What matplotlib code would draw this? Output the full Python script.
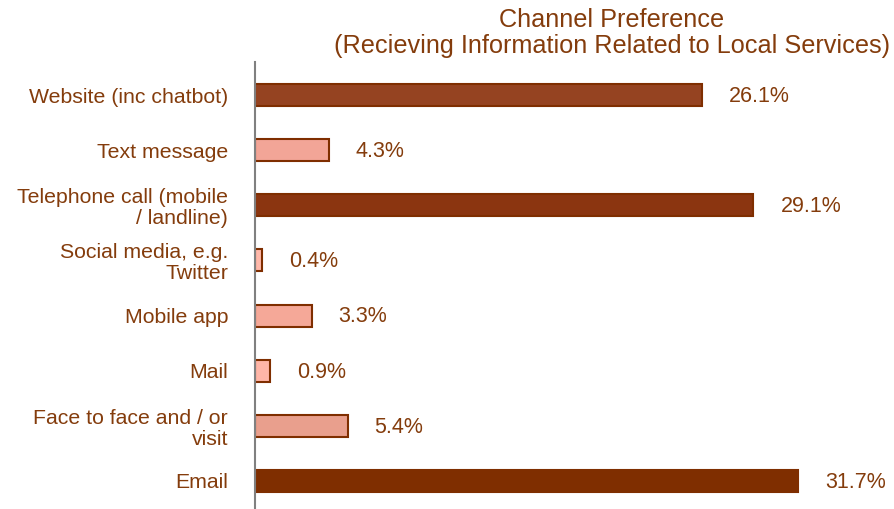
import matplotlib
matplotlib.use("Agg")
import matplotlib.pyplot as plt

categories = ["Website (inc chatbot)", "Text message", "Telephone call (mobile\n/ landline)",
              "Social media, e.g.\nTwitter", "Mobile app", "Mail", "Face to face and / or\nvisit", "Email"]
values = [26.1, 4.3, 29.1, 0.4, 3.3, 0.9, 5.4, 31.7]
colors = ["#954321", "#F2A597", "#8B3510", "#FFB8AA", "#F5A898", "#FFB6A8", "#E99F8D", "#7F2E00"]
title = "Channel Preference\n(Recieving Information Related to Local Services)"

plt.rcParams['font.family'] = ['Liberation Sans', 'DejaVu Sans']
txt = "#843C0C"
edge = "#7F2E00"

fig = plt.figure(figsize=(8.95, 5.09), dpi=100)
ax = fig.add_axes([255/895, 0, 631/895, 1 - 62/509])
pos = list(range(len(categories)))
ax.barh(pos, values, height=0.4, color=colors, edgecolor=edge, linewidth=1.5)
ax.set_ylim(7 + 28/55, -33/55)
ax.set_xlim(0, 631/17.13)
ax.set_yticks(pos)
ax.set_yticklabels(categories, fontsize=15.3, color=txt, multialignment='right', linespacing=1.12)
ax.tick_params(axis='y', length=0, pad=19.4)
ax.set_xticks([])
for s in ["top", "right", "bottom"]:
    ax.spines[s].set_visible(False)
ax.spines["left"].set_color("#808080")
ax.spines["left"].set_linewidth(1.5)
for p, v in zip(pos, values):
    ax.annotate(f"{v:.1f}%", (v, p), xytext=(19.5, -1), textcoords="offset points",
                va="center", ha="left", fontsize=15.5, color=txt)
fig.text(612/895, 1 - 8/509, title, ha="center", va="top", fontsize=18.2, color=txt,
         linespacing=1.08)
fig.savefig("out.png", dpi=100)
